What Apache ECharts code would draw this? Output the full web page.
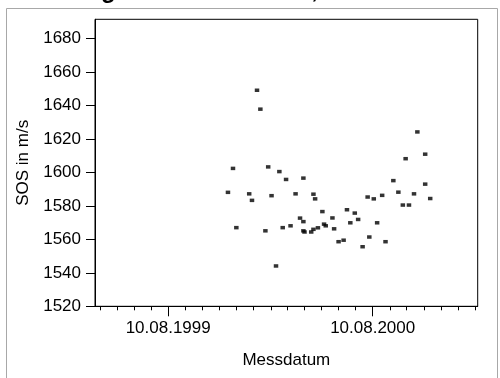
<!DOCTYPE html>
<html>
<head>
<meta charset="utf-8">
<script src="https://cdn.jsdelivr.net/npm/echarts@6/dist/echarts.min.js"></script>
<style>
html,body{margin:0;padding:0;background:#fff;}
#chart{width:500px;height:378px;}
</style>
</head>
<body>
<div id="chart"></div>
<script>
// Measurement dates (Messdatum)
const measureDates = [
  '1999-11-25','1999-12-04','1999-12-10','2000-01-02','2000-01-07','2000-01-16','2000-01-22','2000-01-31',
  '2000-02-05','2000-02-11','2000-02-19','2000-02-25','2000-03-02','2000-03-08','2000-03-16','2000-03-25',
  '2000-04-02','2000-04-08','2000-04-08','2000-04-08','2000-04-10','2000-04-22','2000-04-26','2000-04-26',
  '2000-04-29','2000-05-04','2000-05-12','2000-05-15','2000-05-18','2000-05-30','2000-06-02','2000-06-10',
  '2000-06-19','2000-06-25','2000-07-01','2000-07-09','2000-07-15','2000-07-23','2000-08-01','2000-08-04',
  '2000-08-12','2000-08-18','2000-08-27','2000-09-02','2000-09-16','2000-09-25','2000-10-03','2000-10-08',
  '2000-10-14','2000-10-23','2000-10-29','2000-11-12','2000-11-12','2000-11-21'
];
// SOS values in m/s
const sosValues = [
  1588.1,1602.4,1567.0,1587.2,1583.3,1649.1,1637.8,1565.1,
  1603.3,1586.1,1544.1,1600.5,1567.0,1595.8,1568.1,1587.2,
  1572.7,1596.6,1570.6,1565.1,1564.4,1564.4,1566.0,1587.0,
  1584.2,1566.9,1576.6,1569.1,1568.1,1572.8,1566.3,1558.6,
  1559.5,1577.7,1569.9,1575.7,1571.9,1555.6,1585.3,1561.4,
  1584.2,1569.9,1586.3,1558.6,1595.1,1588.2,1580.5,1608.2,
  1580.5,1587.2,1624.2,1610.9,1593.0,1584.4
];
// Axis ticks
const yTickValues = [1520,1540,1560,1580,1600,1620,1640,1660,1680];
const xMajorTickDates = ['1999-08-10','2000-08-10'];
const xMinorTickDates = [
  '1999-04-10','1999-05-10','1999-06-10','1999-07-10','1999-08-10','1999-09-10','1999-10-10','1999-11-10','1999-12-10',
  '2000-01-10','2000-02-10','2000-03-10','2000-04-10','2000-05-10','2000-06-10','2000-07-10','2000-08-10','2000-09-10',
  '2000-10-10','2000-11-10','2000-12-10','2001-01-10','2001-02-10'
];
const xRange = ['1999-04-01','2001-02-14'];
const yRange = [1520, 1691.5];

function ts(s){const p=s.split('-').map(Number);return Date.UTC(p[0],p[1]-1,p[2]);}
function pad(n){return (n<10?'0':'')+n;}
function fmt(v){const d=new Date(v);return pad(d.getUTCDate())+'.'+pad(d.getUTCMonth()+1)+'.'+d.getUTCFullYear();}

const FONT = 'Liberation Sans, Arial, Helvetica, sans-serif';
const points = measureDates.map((d,i)=>[ts(d), sosValues[i]]);

const chart = echarts.init(document.getElementById('chart'), null, {renderer:'canvas'});
const baseX = {
  type:'value', min: ts(xRange[0]), max: ts(xRange[1]), position:'bottom',
  splitLine:{show:false},
  axisLine:{show:true, lineStyle:{color:'#000', width:1}}
};
chart.setOption({
  animation:false,
  backgroundColor:'#fff',
  graphic:[
    {type:'rect', silent:true, z:-10, shape:{x:6.5,y:8.5,width:491,height:400},
     style:{fill:'none', stroke:'#a8a8a8', lineWidth:1}},
    {type:'text', silent:true, x:11.6, y:-9,
     style:{text:'Messung der SOS-Werte 1, Ferse', font:'bold 24px '+FONT, fill:'#000', verticalAlign:'middle', align:'left'}}
  ],
  grid:{left:95, right:22.3, top:19.3, bottom:71.7, show:true, borderColor:'#000', borderWidth:1, backgroundColor:'transparent'},
  xAxis:[
    Object.assign({}, baseX, {
      axisTick:{show:true, length:4, customValues: xMinorTickDates.map(ts), lineStyle:{color:'#000'}},
      axisLabel:{show:false}
    }),
    Object.assign({}, baseX, {
      axisLine:{show:false},
      axisTick:{show:true, length:10, customValues: xMajorTickDates.map(ts), lineStyle:{color:'#000'}},
      axisLabel:{show:true, customValues: xMajorTickDates.map(ts), formatter: fmt, margin:14,
                 fontSize:17, color:'#000', fontFamily:FONT},
      name:'Messdatum', nameLocation:'middle', nameGap:46,
      nameTextStyle:{fontSize:17, color:'#000', fontFamily:FONT}
    })
  ],
  yAxis:{
    type:'value', min:yRange[0], max:yRange[1],
    splitLine:{show:false},
    axisLine:{show:true, lineStyle:{color:'#000', width:1}},
    axisTick:{show:true, length:9, customValues:yTickValues, lineStyle:{color:'#000'}},
    axisLabel:{show:true, customValues:yTickValues, formatter:function(v){return String(Math.round(v));},
               margin:14, fontSize:17, color:'#000', fontFamily:FONT},
    name:'SOS in m/s', nameLocation:'middle', nameGap:62,
    nameTextStyle:{fontSize:17, color:'#000', fontFamily:FONT}
  },
  series:[{
    type:'scatter', xAxisIndex:0, yAxisIndex:0,
    symbol:'rect', symbolSize:[4.5,3.5],
    itemStyle:{color:'#000'},
    data: points
  }]
});
</script>
</body>
</html>
